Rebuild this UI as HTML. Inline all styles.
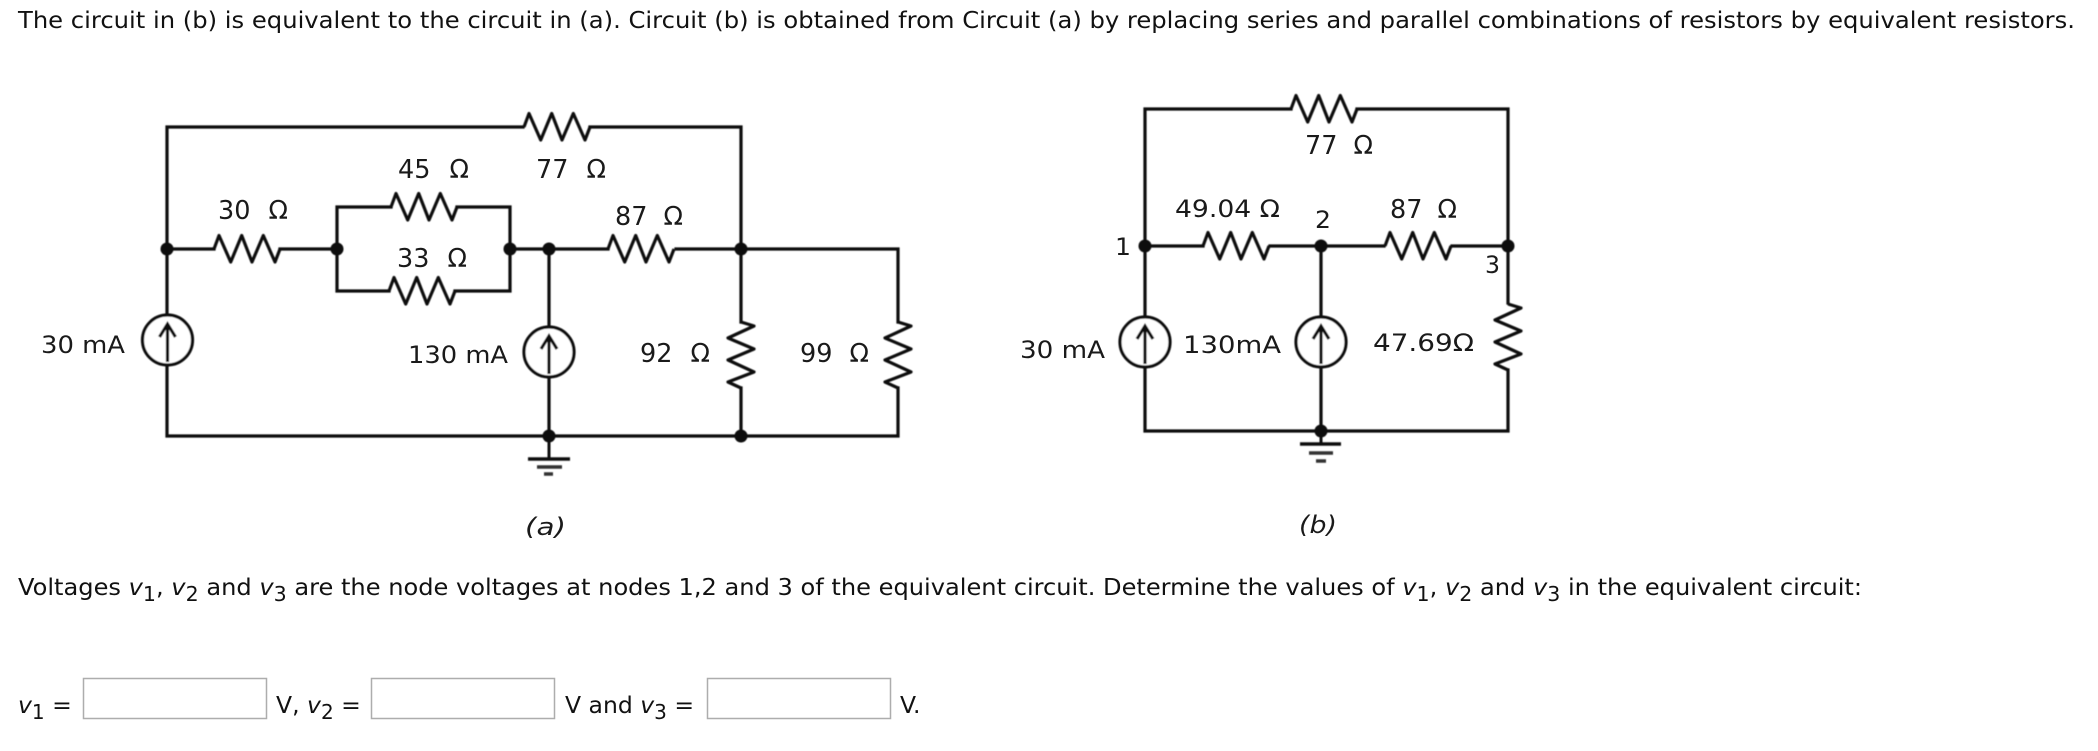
<!DOCTYPE html>
<html>
<head>
<meta charset="utf-8">
<style>
html,body{margin:0;padding:0;background:#fff;}
svg{display:block;}
.t{font-family:"DejaVu Sans","Liberation Sans",sans-serif;font-size:23.5px;fill:#111;}
.s{font-size:20px;}
.l{font-family:"DejaVu Sans","Liberation Sans",sans-serif;font-size:24px;fill:#1a1a1a;}
.o{font-size:25.5px;}
.i{font-style:italic;}
.w{fill:none;stroke:#111;stroke-width:3.2;stroke-linejoin:miter;stroke-linecap:square;}
.z{fill:none;stroke:#111;stroke-width:3.2;stroke-linejoin:round;}
.c{fill:#fff;stroke:#111;stroke-width:3.2;}
.b{fill:#fff;stroke:#adadad;stroke-width:1.5;}
</style>
</head>
<body>
<svg xmlns="http://www.w3.org/2000/svg" width="2098" height="751" viewBox="0 0 2098 751">
<defs>
<filter id="bl" x="-5%" y="-5%" width="110%" height="110%"><feGaussianBlur stdDeviation="0.5"/></filter>
<polyline id="r" class="z" points="0,0 5,-13.5 16.7,13 27.7,-13.5 38,13 49.3,-13.5 61,13 66,0"/>
<polyline id="v" class="z" points="0,0 13,4 -13,16 13,27 -13,38 13,50 -13,60 0,66"/>
<g id="s">
<circle class="c" r="25"/>
<path d="M0,22V-15M-8,-3L0,-16L8,-3" fill="none" stroke="#111" stroke-width="3.2"/>
</g>
</defs>

<rect width="2098" height="751" fill="#fff"/>

<text class="t" x="18" y="28" textLength="2057" lengthAdjust="spacingAndGlyphs">The circuit in (b) is equivalent to the circuit in (a). Circuit (b) is obtained from Circuit (a) by replacing series and parallel combinations of resistors by equivalent resistors.</text>

<g filter="url(#bl)">
<!-- Circuit (a) wires -->
<path class="w" d="M167,315V127H523M590,127H741V322M741,388V436M167,365V436H898V388M898,322V249H676M608,249H510M510,249V207H457M391,207H337V291H389M455,291H510V249M549,249V327M549,378V436M337,249H280M214,249H167"/>
<use href="#r" x="214" y="249"/>
<use href="#r" x="391" y="207"/>
<use href="#r" x="389" y="291"/>
<use href="#r" x="524" y="127"/>
<use href="#r" x="608" y="249"/>
<use href="#v" x="741" y="322"/>
<use href="#v" x="898" y="322"/>
<use href="#s" x="167.5" y="340"/>
<use href="#s" x="549" y="352"/>
<path d="M549,436V459" stroke="#111" stroke-width="3" fill="none"/>
<path d="M528,459H570" stroke="#111" stroke-width="3.5" fill="none"/>
<path d="M537,467H562" stroke="#333" stroke-width="3.5" fill="none"/>
<path d="M544,474H553" stroke="#333" stroke-width="3.5" fill="none"/>
<g fill="#111">
<circle cx="167" cy="249" r="6.5"/><circle cx="337" cy="249" r="6.5"/><circle cx="510" cy="249" r="6.5"/><circle cx="549" cy="249" r="6.5"/><circle cx="741" cy="249" r="6.5"/><circle cx="549" cy="436" r="6.5"/><circle cx="741" cy="436" r="6.5"/>
</g>

<!-- Circuit (b) wires -->
<path class="w" d="M1145,315V109H1291M1357,109H1508V303M1508,370V431H1145V368M1145,246H1203M1270,246H1384M1452,246H1508M1321,246V315M1321,368V431"/>
<use href="#r" x="1291" y="109"/>
<use href="#r" x="1203" y="246"/>
<use href="#r" x="1385" y="246"/>
<use href="#v" x="1508" y="304"/>
<use href="#s" x="1145" y="342"/>
<use href="#s" x="1321" y="342"/>
<path d="M1321,431V444" stroke="#111" stroke-width="3" fill="none"/>
<path d="M1300,444H1341" stroke="#111" stroke-width="3.5" fill="none"/>
<path d="M1309,453H1333" stroke="#333" stroke-width="3.5" fill="none"/>
<path d="M1316,461H1326" stroke="#333" stroke-width="3.5" fill="none"/>
<g fill="#111">
<circle cx="1145" cy="246" r="6.5"/><circle cx="1321" cy="246" r="6.5"/><circle cx="1508" cy="246" r="6.5"/><circle cx="1321" cy="431" r="6.5"/>
</g>
</g>

<!-- Circuit (a) labels -->
<text class="l o" x="218" y="219">30<tspan dx="10"> Ω</tspan></text>
<text class="l o" x="398" y="178">45<tspan dx="11"> Ω</tspan></text>
<text class="l o" x="536" y="178">77<tspan dx="10"> Ω</tspan></text>
<text class="l o" x="615" y="225">87<tspan dx="8"> Ω</tspan></text>
<text class="l o" x="397" y="267">33<tspan dx="10"> Ω</tspan></text>
<text class="l" x="41" y="353" textLength="84" lengthAdjust="spacingAndGlyphs">30 mA</text>
<text class="l" x="408" y="363" textLength="100" lengthAdjust="spacingAndGlyphs">130 mA</text>
<text class="l o" x="640" y="362">92<tspan dx="10"> Ω</tspan></text>
<text class="l o" x="800" y="362">99<tspan dx="9"> Ω</tspan></text>
<text class="l i" x="525" y="535" textLength="41" lengthAdjust="spacingAndGlyphs">(a)</text>

<!-- Circuit (b) labels -->
<text class="l o" x="1305" y="154">77<tspan dx="8"> Ω</tspan></text>
<text class="l" x="1175" y="217" textLength="105" lengthAdjust="spacingAndGlyphs">49.04 Ω</text>
<text class="l" x="1315" y="228" textLength="16" lengthAdjust="spacingAndGlyphs">2</text>
<text class="l o" x="1390" y="218">87<tspan dx="7"> Ω</tspan></text>
<text class="l" x="1115" y="255" textLength="16" lengthAdjust="spacingAndGlyphs">1</text>
<text class="l" x="1485" y="273" textLength="15" lengthAdjust="spacingAndGlyphs">3</text>
<text class="l" x="1020" y="358" textLength="85" lengthAdjust="spacingAndGlyphs">30 mA</text>
<text class="l" x="1183" y="353" textLength="98" lengthAdjust="spacingAndGlyphs">130mA</text>
<text class="l" x="1373" y="351" textLength="101" lengthAdjust="spacingAndGlyphs">47.69Ω</text>
<text class="l i" x="1299" y="533" textLength="38" lengthAdjust="spacingAndGlyphs">(b)</text>

<!-- Question line -->
<text class="t" x="18" y="595" textLength="1844" lengthAdjust="spacingAndGlyphs">Voltages <tspan class="i">v</tspan><tspan dy="6" class="s">1</tspan><tspan dy="-6">, </tspan><tspan class="i">v</tspan><tspan dy="6" class="s">2</tspan><tspan dy="-6"> and </tspan><tspan class="i">v</tspan><tspan dy="6" class="s">3</tspan><tspan dy="-6"> are the node voltages at nodes 1,2 and 3 of the equivalent circuit. Determine the values of </tspan><tspan class="i">v</tspan><tspan dy="6" class="s">1</tspan><tspan dy="-6">, </tspan><tspan class="i">v</tspan><tspan dy="6" class="s">2</tspan><tspan dy="-6"> and </tspan><tspan class="i">v</tspan><tspan dy="6" class="s">3</tspan><tspan dy="-6"> in the equivalent circuit:</tspan></text>

<!-- Answer line -->
<text class="t" x="18" y="713"><tspan class="i">v</tspan><tspan dy="6" class="s">1</tspan><tspan dy="-6"> =</tspan></text>
<rect class="b" x="83.5" y="678.5" width="183" height="40"/>
<text class="t" x="276" y="713">V, <tspan class="i">v</tspan><tspan dy="6" class="s">2</tspan><tspan dy="-6"> =</tspan></text>
<rect class="b" x="371.5" y="678.5" width="183" height="40"/>
<text class="t" x="565" y="713">V and <tspan class="i">v</tspan><tspan dy="6" class="s">3</tspan><tspan dy="-6"> =</tspan></text>
<rect class="b" x="707.5" y="678.5" width="183" height="40"/>
<text class="t" x="900" y="713">V.</text>
</svg>
</body>
</html>
